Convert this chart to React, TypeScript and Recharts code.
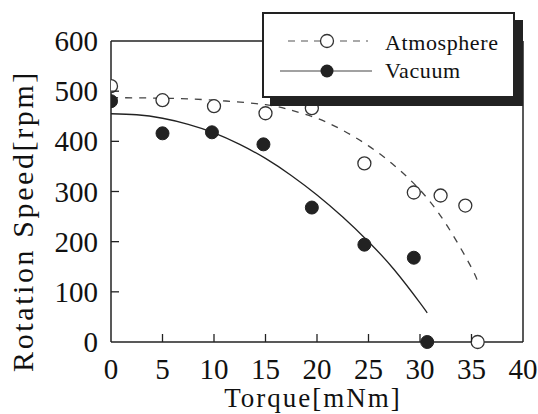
import React from "react";
import {
  ComposedChart,
  Line,
  Scatter,
  XAxis,
  YAxis,
  ReferenceLine,
  Label,
} from "recharts";

// measured points
const atmTorque = [0, 5, 10, 15, 19.5, 24.6, 29.4, 32, 34.4, 35.6];
const atmSpeed = [510, 482, 470, 456, 466, 356, 298, 292, 272, 0];

const vacTorque = [0, 5, 9.8, 14.8, 19.5, 24.6, 29.4, 30.7];
const vacSpeed = [480, 416, 418, 394, 268, 194, 168, 0];

// fitted curves
const atmFitTorque = [0, 5, 10, 15, 17.5, 20, 22.5, 25, 27.5, 30, 32.5, 35, 35.6];
const atmFitSpeed = [487, 486, 482, 473, 462, 446, 422, 391, 352, 303, 236, 148, 118];

const vacFitTorque = [0, 2.5, 5, 7.5, 10, 12.5, 15, 17.5, 20, 22.5, 25, 27.5, 30, 30.7];
const vacFitSpeed = [455, 453, 446, 434, 417, 394, 366, 332, 293, 249, 200, 144, 78, 58];

const xTicks = [0, 5, 10, 15, 20, 25, 30, 35, 40];
const yTicks = [0, 100, 200, 300, 400, 500, 600];

const FONT = "'Liberation Serif', 'Times New Roman', serif";
const INK = "#222";

const zip = (xs: number[], ys: number[]) => xs.map((x, i) => ({ x, y: ys[i] }));

const atmPoints = zip(atmTorque, atmSpeed);
const vacPoints = zip(vacTorque, vacSpeed);
const atmFit = zip(atmFitTorque, atmFitSpeed);
const vacFit = zip(vacFitTorque, vacFitSpeed);

const Y_MARGIN = 13;
const X_MARGIN = 16;
const TICK_LEN = 8;

function YTick(props: any) {
  const { x, y, payload } = props;
  const v = payload.value;
  const ax = x + Y_MARGIN;
  return (
    <g>
      {v !== 0 && v !== 600 && (
        <line x1={ax} y1={y} x2={ax + TICK_LEN} y2={y} stroke={INK} strokeWidth={1.3} />
      )}
      <text x={x} y={y} dy={10} textAnchor="end" fontFamily={FONT} fontSize={29} fill="#111">
        {v}
      </text>
    </g>
  );
}

function XTick(props: any) {
  const { x, y, payload } = props;
  const v = payload.value;
  const ay = y - X_MARGIN;
  return (
    <g>
      {v !== 0 && v !== 40 && (
        <line x1={x} y1={ay} x2={x} y2={ay - TICK_LEN} stroke={INK} strokeWidth={1.3} />
      )}
      <text x={x} y={y} dy={21} textAnchor="middle" fontFamily={FONT} fontSize={29} fill="#111">
        {v}
      </text>
    </g>
  );
}

function OpenDot(props: any) {
  const { cx, cy } = props;
  if (cx == null || cy == null) return null;
  return <circle cx={cx} cy={cy} r={6.5} fill="#fff" stroke="#333" strokeWidth={1.3} />;
}

function FilledDot(props: any) {
  const { cx, cy } = props;
  if (cx == null || cy == null) return null;
  return <circle cx={cx} cy={cy} r={6.5} fill={INK} stroke={INK} strokeWidth={1} />;
}

function LegendBox() {
  return (
    <div
      style={{
        position: "absolute",
        left: 262,
        top: 12,
        width: 253,
        height: 86,
        boxSizing: "border-box",
        border: `2px solid ${INK}`,
        background: "#fff",
        boxShadow: `8px 8px 0 ${INK}`,
      }}
    >
      <svg width={249} height={82} style={{ position: "absolute", left: 0, top: 0 }}>
        <line x1={24} y1={27} x2={104} y2={27} stroke="#555" strokeWidth={1.2} strokeDasharray="7 6" />
        <circle cx={63} cy={27} r={6.5} fill="#fff" stroke="#333" strokeWidth={1.3} />
        <line x1={16} y1={57} x2={108} y2={57} stroke="#444" strokeWidth={1.2} />
        <circle cx={63} cy={57} r={6.5} fill={INK} />
        <text x={121} y={36} fontFamily={FONT} fontSize={22} letterSpacing={0.6} fill="#111">
          Atmosphere
        </text>
        <text x={121} y={64} fontFamily={FONT} fontSize={22} letterSpacing={0.6} fill="#111">
          Vacuum
        </text>
      </svg>
    </div>
  );
}

export default function App() {
  return (
    <div style={{ position: "absolute", left: 0, top: 0, width: 538, height: 414, background: "#fff" }}>
      <ComposedChart
        width={538}
        height={414}
        margin={{ top: 41, right: 15, left: 0, bottom: 0 }}
      >
        <XAxis
          type="number"
          dataKey="x"
          domain={[0, 40]}
          ticks={xTicks}
          allowDataOverflow
          height={72}
          tickLine={false}
          tickSize={0}
          tickMargin={X_MARGIN}
          tick={<XTick />}
          axisLine={{ stroke: INK, strokeWidth: 1.5 }}
          interval={0}
        >
          <Label
            content={() => (
              <text x={313} y={407} textAnchor="middle" fontFamily={FONT} fontSize={27} letterSpacing={2} fill="#111">
                Torque[mNm]
              </text>
            )}
          />
        </XAxis>
        <YAxis
          type="number"
          dataKey="y"
          domain={[0, 600]}
          ticks={yTicks}
          width={111}
          tickLine={false}
          tickSize={0}
          tickMargin={Y_MARGIN}
          tick={<YTick />}
          axisLine={{ stroke: INK, strokeWidth: 1.5 }}
          interval={0}
        >
          <Label
            content={() => (
              <text
                x={33}
                y={221}
                transform="rotate(-90 33 221)"
                textAnchor="middle"
                fontFamily={FONT}
                fontSize={30}
                letterSpacing={2.6}
                fill="#111"
              >
                Rotation Speed[rpm]
              </text>
            )}
          />
        </YAxis>
        <ReferenceLine y={600} stroke={INK} strokeWidth={1.5} />
        <ReferenceLine x={40} stroke={INK} strokeWidth={1.5} />

        <Line
          data={atmFit}
          dataKey="y"
          type="natural"
          stroke="#444"
          strokeWidth={1.3}
          strokeDasharray="7 7"
          dot={false}
          activeDot={false}
          isAnimationActive={false}
        />
        <Line
          data={vacFit}
          dataKey="y"
          type="natural"
          stroke={INK}
          strokeWidth={1.3}
          dot={false}
          activeDot={false}
          isAnimationActive={false}
        />
        <Scatter data={atmPoints} dataKey="y" shape={<OpenDot />} isAnimationActive={false} />
        <Scatter data={vacPoints} dataKey="y" shape={<FilledDot />} isAnimationActive={false} />
      </ComposedChart>
      <LegendBox />
    </div>
  );
}
